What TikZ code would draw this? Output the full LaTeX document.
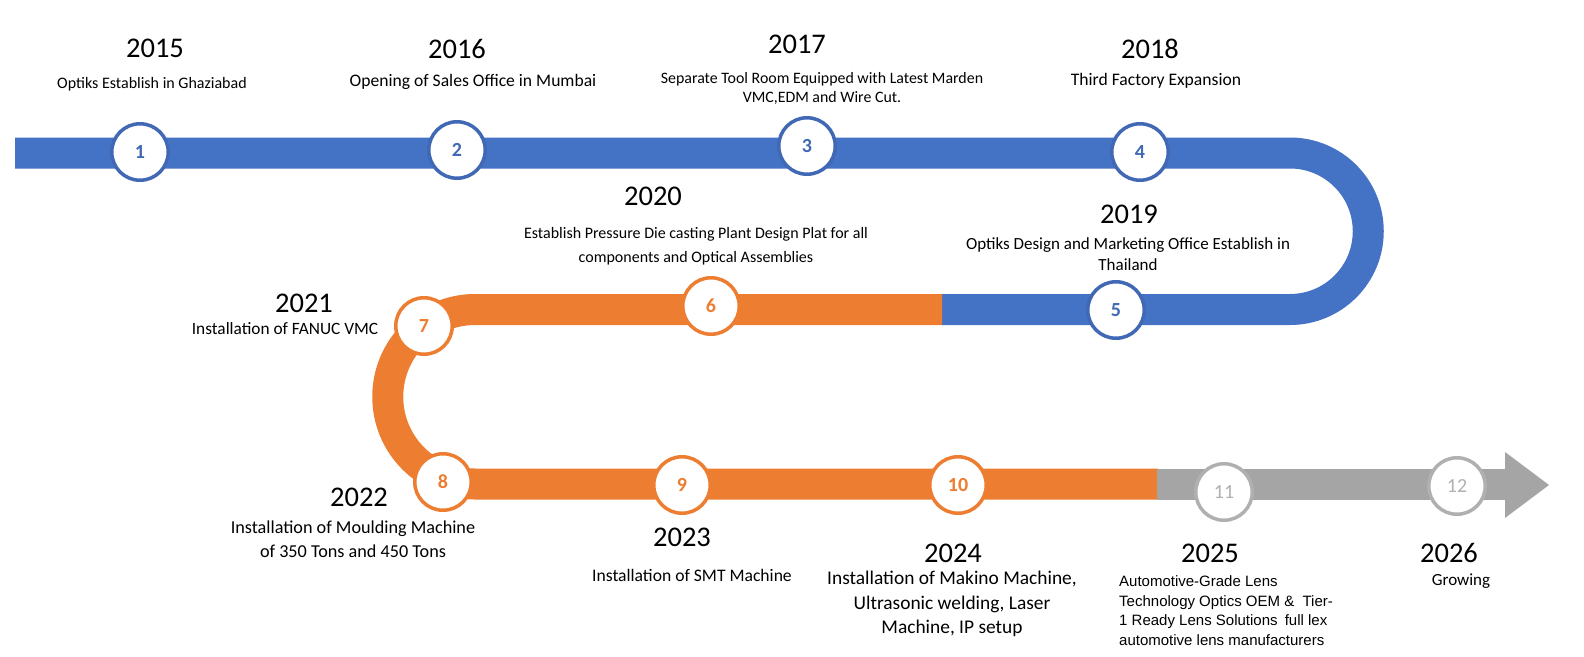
\documentclass[tikz,border=0pt]{standalone}
\usepackage{fontspec}
\setmainfont{Carlito}
\newfontfamily\arialf{Liberation Sans}
\definecolor{tlblue}{HTML}{4472C4}
\definecolor{tlblued}{HTML}{4068B4}
\definecolor{tlorange}{HTML}{ED7D31}
\definecolor{tlgray}{HTML}{A5A5A5}
\definecolor{tlgrayc}{HTML}{B0B0B0}
\tikzset{
  band/.style={line width=31pt, line cap=butt},
  dot/.style={circle, minimum size=56.5pt, inner sep=0pt, line width=3.5pt, fill=white, font=\fontsize{20}{20}\selectfont\bfseries},
  bdot/.style={dot, draw=tlblued, text=tlblued},
  odot/.style={dot, draw=tlorange, text=tlorange},
  gdot/.style={dot, draw=tlgrayc, text=tlgrayc, font=\fontsize{20}{20}\selectfont},
  year/.style={inner sep=0pt, font=\fontsize{28.5}{28.5}\selectfont},
  desc/.style={inner sep=0pt, align=center, font=\fontsize{16}{23}\selectfont},
}
\begin{document}
\begin{tikzpicture}[x=1pt,y=-1pt]
\useasboundingbox (0,0) rectangle (1584,656);
% bands
\draw[band, tlblue] (15,153) -- (1290,153) arc (-90:90:78.25) -- (941,309.5);
\draw[band, tlorange] (942,309.5) -- (475,309.5) arc (270:90:87.25) -- (1158,484);
\draw[band, tlgray] (1157,484) -- (1506,484);
\fill[tlgray] (1505,452) -- (1549,485) -- (1505,518) -- cycle;
% circles
\node[bdot] (c1) at (140,152) {1};
\node[bdot] (c2) at (457,150) {2};
\node[bdot] (c3) at (807,146) {3};
\node[bdot] (c4) at (1140,152) {4};
\node[bdot] (c5) at (1116,310) {5};
\node[odot] (c6) at (711,306) {6};
\node[odot] (c7) at (424,326) {7};
\node[odot] (c8) at (443,482) {8};
\node[odot] (c9) at (682,485) {9};
\node[odot] (c10) at (958,485) {10};
\node[gdot] (c11) at (1224,492) {11};
\node[gdot] (c12) at (1457,486) {12};
% years and descriptions
\node[year] (y15) at (155,48.5) {2015};
\node[desc, font=\fontsize{16}{23}\selectfont] (d15) at (152,84) {Optiks Establish in Ghaziabad};
\node[year] (y16) at (457,48.5) {2016};
\node[desc, font=\fontsize{17.6}{23}\selectfont] (d16) at (473,82) {Opening of Sales Office in Mumbai};
\node[year] (y17) at (797,44.5) {2017};
\node[desc, font=\fontsize{15.9}{19.5}\selectfont] (d17) at (822,88.5) {Separate Tool Room Equipped with Latest Marden\\VMC,EDM and Wire Cut.};
\node[year] (y18) at (1150,48.5) {2018};
\node[desc, font=\fontsize{17.6}{23}\selectfont] (d18) at (1156,81) {Third Factory Expansion};
\node[year] (y20) at (653,196) {2020};
\node[desc, font=\fontsize{16}{23.5}\selectfont] (d20) at (696,246) {Establish Pressure Die casting Plant Design Plat for all\\components and Optical Assemblies};
\node[year] (y19) at (1129,214) {2019};
\node[desc, font=\fontsize{17}{20.5}\selectfont] (d19) at (1128,254) {Optiks Design and Marketing Office Establish in\\Thailand};
\node[year] (y21) at (304,303) {2021};
\node[desc, font=\fontsize{17.3}{23}\selectfont] (d21) at (285,329) {Installation of FANUC VMC};
\node[year] (y22) at (359,497) {2022};
\node[desc, font=\fontsize{18.2}{23.5}\selectfont] (d22) at (353,539) {Installation of Moulding Machine\\of 350 Tons and 450 Tons};
\node[year] (y23) at (682,537) {2023};
\node[desc, font=\fontsize{17.6}{23}\selectfont] (d23) at (692,575) {Installation of SMT Machine};
\node[year] (y24) at (953,553) {2024};
\node[desc, font=\fontsize{19.4}{24.2}\selectfont] (d24) at (952,604) {Installation of Makino Machine,\\Ultrasonic welding, Laser\\Machine, IP setup};
\node[year] (y25) at (1210,553) {2025};
\node[inner sep=0pt, align=left, anchor=west, font=\arialf\fontsize{15}{19.6}\selectfont] (d25) at (1119,610.5) {Automotive-Grade Lens\\Technology Optics OEM \&\ \ Tier-\\1 Ready Lens Solutions\hspace{3pt} full lex\\automotive lens manufacturers};
\node[year] (y26) at (1449,553) {2026};
\node[desc, font=\fontsize{17}{24}\selectfont] (d26) at (1461,581) {Growing};
\end{tikzpicture}
\end{document}
